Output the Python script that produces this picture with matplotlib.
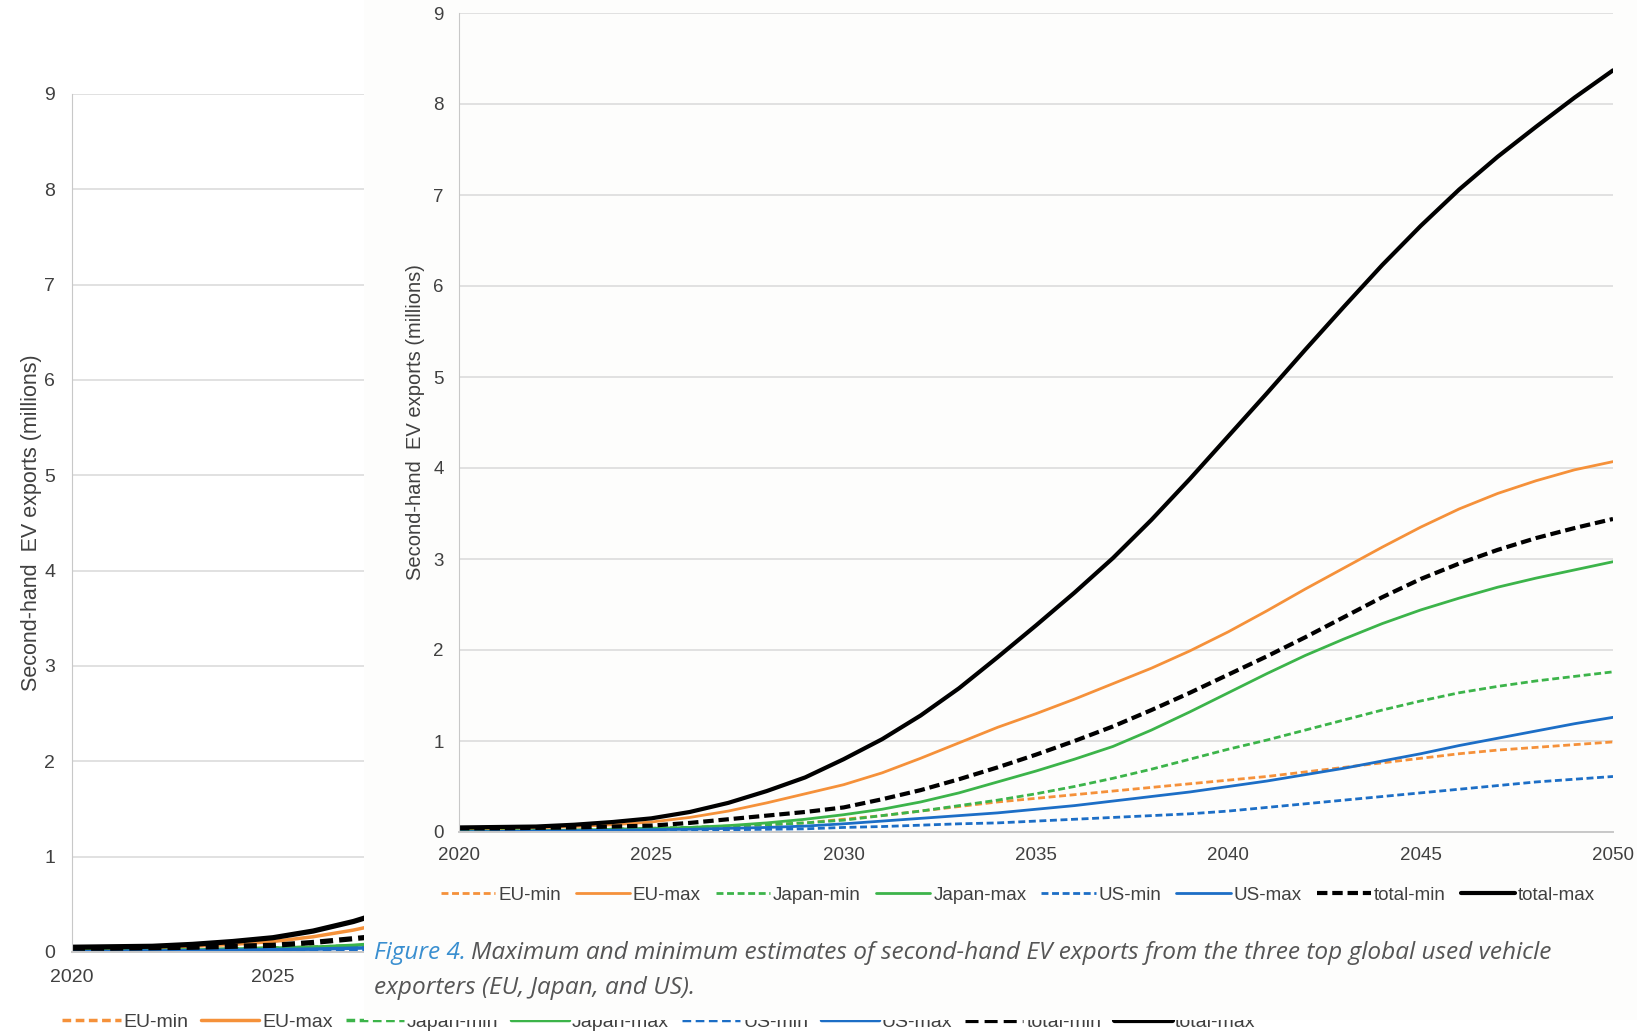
import numpy as np
import matplotlib
matplotlib.use('Agg')
import matplotlib.pyplot as plt

plt.rcParams['font.family'] = ['Liberation Sans', 'DejaVu Sans']
plt.rcParams['lines.scale_dashes'] = False

years = list(range(2020, 2051))

eu_min = [0.01, 0.01, 0.015, 0.02, 0.03, 0.04, 0.05, 0.06, 0.08, 0.10, 0.14, 0.18, 0.23, 0.28, 0.33,
          0.37, 0.41, 0.45, 0.49, 0.53, 0.57, 0.61, 0.66, 0.71, 0.76, 0.81, 0.86, 0.90, 0.93, 0.96, 0.99]
eu_max = [0.03, 0.035, 0.045, 0.06, 0.08, 0.11, 0.16, 0.23, 0.32, 0.42, 0.52, 0.65, 0.81, 0.98, 1.15,
          1.30, 1.46, 1.63, 1.80, 1.99, 2.20, 2.43, 2.67, 2.90, 3.13, 3.35, 3.55, 3.72, 3.86, 3.98, 4.07]
japan_min = [0.01, 0.01, 0.015, 0.02, 0.03, 0.04, 0.05, 0.065, 0.08, 0.10, 0.13, 0.18, 0.23, 0.29, 0.35,
             0.42, 0.50, 0.59, 0.69, 0.80, 0.91, 1.01, 1.12, 1.23, 1.34, 1.44, 1.53, 1.60, 1.66, 1.71, 1.76]
japan_max = [0.01, 0.01, 0.015, 0.02, 0.03, 0.04, 0.05, 0.07, 0.10, 0.14, 0.19, 0.25, 0.33, 0.43, 0.55,
             0.67, 0.80, 0.94, 1.12, 1.32, 1.53, 1.74, 1.94, 2.12, 2.29, 2.44, 2.57, 2.69, 2.79, 2.88, 2.97]
us_min = [0.0, 0.005, 0.01, 0.01, 0.015, 0.02, 0.02, 0.025, 0.03, 0.035, 0.05, 0.06, 0.075, 0.09, 0.10,
          0.12, 0.14, 0.16, 0.18, 0.20, 0.23, 0.27, 0.31, 0.35, 0.39, 0.43, 0.47, 0.51, 0.55, 0.58, 0.61]
us_max = [0.0, 0.005, 0.01, 0.015, 0.02, 0.025, 0.03, 0.04, 0.05, 0.065, 0.09, 0.12, 0.15, 0.18, 0.21,
          0.25, 0.29, 0.34, 0.39, 0.44, 0.50, 0.56, 0.63, 0.70, 0.78, 0.86, 0.95, 1.03, 1.11, 1.19, 1.26]
total_min = [0.04, 0.04, 0.045, 0.05, 0.06, 0.07, 0.10, 0.14, 0.18, 0.22, 0.27, 0.36, 0.46, 0.58, 0.71,
             0.85, 1.00, 1.16, 1.34, 1.53, 1.73, 1.93, 2.14, 2.36, 2.58, 2.78, 2.95, 3.10, 3.23, 3.34, 3.44]
total_max = [0.05, 0.055, 0.06, 0.08, 0.11, 0.15, 0.22, 0.32, 0.45, 0.60, 0.80, 1.02, 1.28, 1.58, 1.92,
             2.27, 2.63, 3.01, 3.43, 3.88, 4.35, 4.82, 5.30, 5.77, 6.23, 6.66, 7.06, 7.42, 7.75, 8.07, 8.37]

x_ticks = [2020, 2025, 2030, 2035, 2040, 2045, 2050]
y_ticks = list(range(0, 10))
y_label = 'Second-hand  EV exports (millions)'
caption_head = 'Figure 4.'
caption_body = 'Maximum and minimum estimates of second-hand EV exports from the three top global used vehicle'
caption_line2 = 'exporters (EU, Japan, and US).'

ORANGE = '#f5913a'
GREEN = '#3cb44a'
BLUE = '#1c6ec6'
GRID = '#dcdcdc'
TXT = '#404040'

# (label, values, color, dashed, is_total)
series = [
    ('EU-min', eu_min, ORANGE, True, False),
    ('EU-max', eu_max, ORANGE, False, False),
    ('Japan-min', japan_min, GREEN, True, False),
    ('Japan-max', japan_max, GREEN, False, False),
    ('US-min', us_min, BLUE, True, False),
    ('US-max', us_max, BLUE, False, False),
    ('total-min', total_min, 'black', True, True),
    ('total-max', total_max, 'black', False, True),
]

W, H = 1637, 1033


def px_rect(x0, y0, x1, y1):
    # pixel box (top-left origin) -> figure fraction rect
    return [x0 / W, 1 - y1 / H, (x1 - x0) / W, (y1 - y0) / H]


def draw_chart(ax, scale, fs, tick_pad_x, tick_pad_y):
    for label, vals, color, dashed, is_total in series:
        lw = (3.0 if is_total else 2.0) * scale
        kw = dict(color=color, linewidth=lw, label=label,
                  solid_capstyle='round', solid_joinstyle='round')
        if dashed:
            dash = (7.5, 3.5) if is_total else (5.0, 2.6)
            kw['dashes'] = tuple(d * scale for d in dash)
        ax.plot(years, vals, **kw)
    ax.set_xlim(2020, 2050)
    ax.set_ylim(0, 9)
    ax.set_xticks(x_ticks)
    ax.set_yticks(y_ticks)
    ax.grid(axis='y', color=GRID, linewidth=1.2)
    ax.set_axisbelow(True)
    ax.tick_params(length=0, labelsize=fs, colors=TXT)
    ax.tick_params(axis='x', pad=tick_pad_x)
    ax.tick_params(axis='y', pad=tick_pad_y)
    for side in ['top', 'right']:
        ax.spines[side].set_visible(False)
    ax.spines['left'].set_color('#c8c8c8')
    ax.spines['bottom'].set_color('#c8c8c8')
    ax.spines['bottom'].set_linewidth(1.4)


fig = plt.figure(figsize=(W / 100, H / 100), dpi=100, facecolor='white')

# background copy of the chart (mostly hidden by the overlay)
ax_bg = fig.add_axes(px_rect(72, 94, 1278, 952), zorder=0)
ax_bg.set_facecolor('white')
draw_chart(ax_bg, 1.25, 14, 12, 12)
ax_bg.set_ylabel(y_label, fontsize=15.5, color=TXT, labelpad=2)
# year labels past 2025 sit under the overlay anyway
for yr, lab in zip(x_ticks, ax_bg.get_xticklabels()):
    if yr > 2025:
        lab.set_visible(False)
ax_bg.legend(loc='center', bbox_to_anchor=(659 / W, 1 - 1022 / H), bbox_transform=fig.transFigure,
             ncol=8, frameon=False, fontsize=14, handlelength=3.0, handletextpad=0.15,
             columnspacing=0.65, labelcolor=TXT)

# overlay panel
ax_panel = fig.add_axes(px_rect(364, 0, W, 1020), zorder=1)
ax_panel.set_facecolor('#fdfdfc')
ax_panel.set_xticks([])
ax_panel.set_yticks([])
for s in ax_panel.spines.values():
    s.set_visible(False)

# foreground chart
ax = fig.add_axes(px_rect(459, 13, 1613, 832), zorder=2)
ax.set_facecolor('none')
draw_chart(ax, 1.0, 13.5, 11, 11)
ax.set_ylabel(y_label, fontsize=14.5, color=TXT, labelpad=6)
ax.legend(loc='center', bbox_to_anchor=(1018 / W, 1 - 895 / H), bbox_transform=fig.transFigure,
          ncol=8, frameon=False, fontsize=13.5, handlelength=2.9, handletextpad=0.15,
          columnspacing=0.8, labelcolor=TXT)

cap_kw = dict(fontsize=17.6, family=['Open Sans', 'DejaVu Sans'], style='italic', zorder=5, va='center')
t = fig.text(374 / W, 1 - 953 / H, caption_head, color='#3a8fd0', **cap_kw)
fig.canvas.draw()
bb = t.get_window_extent()
fig.text((bb.x1 + 5) / W, 1 - 953 / H, caption_body, color='#555555', **cap_kw)
fig.text(374 / W, 1 - 988 / H, caption_line2, color='#555555', **cap_kw)

fig.savefig('out.png', dpi=100, facecolor='white')
